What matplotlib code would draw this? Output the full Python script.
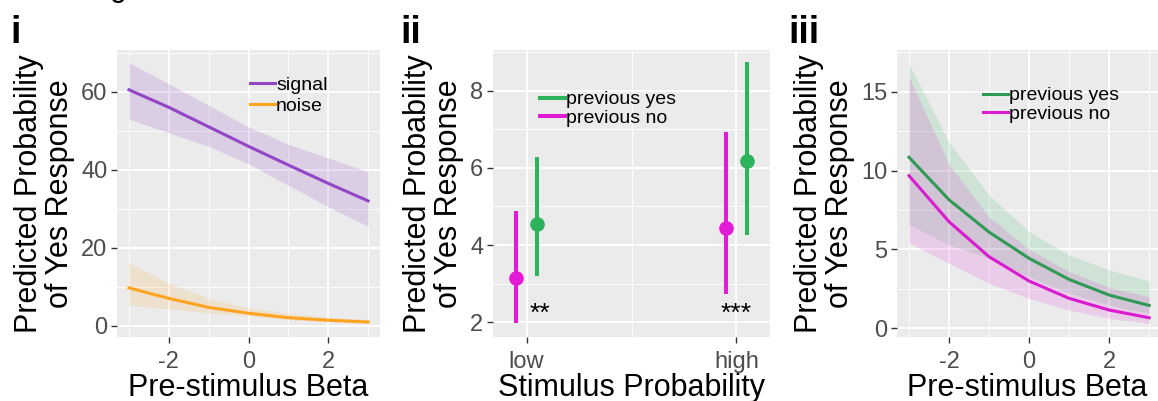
import matplotlib
matplotlib.use("Agg")
import matplotlib.pyplot as plt
import numpy as np

plt.rcParams['font.family'] = ['Liberation Sans', 'DejaVu Sans']
plt.rcParams['axes.unicode_minus'] = False

# ---------------- data ----------------
beta = [-3, -2, -1, 0, 1, 2, 3]

# panel i
signal_fit = [60.5, 56.0, 51.0, 46.0, 41.2, 36.5, 32.0]
signal_hi = [67.5, 62.0, 56.5, 51.0, 46.5, 43.0, 39.5]
signal_lo = [53.0, 49.5, 46.0, 41.5, 36.0, 30.5, 25.5]
noise_fit = [9.7, 7.0, 4.7, 3.2, 2.05, 1.4, 0.95]
noise_hi = [16.0, 10.9, 7.0, 4.6, 3.2, 2.15, 1.6]
noise_lo = [5.3, 4.3, 3.3, 2.5, 1.6, 1.0, 0.6]

# panel ii
stim_levels = ["low", "high"]
prev_no_mean = [3.14, 4.43]
prev_no_lo = [1.97, 2.73]
prev_no_hi = [4.88, 6.94]
prev_yes_mean = [4.54, 6.18]
prev_yes_lo = [3.20, 4.26]
prev_yes_hi = [6.29, 8.74]
sig_marks = ["**", "***"]

# panel iii
yes_fit = [10.85, 8.15, 6.1, 4.44, 3.1, 2.11, 1.45]
yes_hi = [16.76, 11.8, 8.45, 6.13, 4.65, 3.7, 3.0]
yes_lo = [6.6, 5.28, 4.44, 3.27, 2.22, 1.48, 0.95]
no_fit = [9.68, 6.76, 4.54, 3.0, 1.9, 1.16, 0.67]
no_hi = [15.95, 10.4, 7.05, 5.0, 3.6, 2.6, 2.0]
no_lo = [5.43, 4.12, 2.85, 1.9, 1.16, 0.63, 0.32]

# ---------------- style ----------------
BG = "#EBEBEB"
TICKC = "#4D4D4D"
PURPLE = "#9146C6"
ORANGE = "#FFA320"
GREEN = "#2DB35B"
MAGENTA = "#E31BD6"
GREEN3 = "#2F9A55"
MAGENTA3 = "#D91CD0"

W, H = 1158, 401
fig = plt.figure(figsize=(W / 100, H / 100), dpi=100)


def px_axes(x0, x1, y0, y1):
    return fig.add_axes([x0 / W, (H - y1) / H, (x1 - x0) / W, (y1 - y0) / H])


def ggstyle(ax, xmaj, xmin, ymaj, ymin):
    ax.set_facecolor(BG)
    for s in ax.spines.values():
        s.set_visible(False)
    for v in xmin:
        ax.axvline(v, color="white", lw=0.6, zorder=0)
    for v in ymin:
        ax.axhline(v, color="white", lw=0.6, zorder=0)
    for v in xmaj:
        ax.axvline(v, color="white", lw=1.3, zorder=0)
    for v in ymaj:
        ax.axhline(v, color="white", lw=1.3, zorder=0)
    ax.tick_params(axis="both", length=4, width=1, color="#333333",
                   labelcolor=TICKC, labelsize=17, pad=3)
    ax.tick_params(axis="x", pad=6)


ylab = "Predicted Probability\nof Yes Response"
LABFS = 22

# ---------------- panel i ----------------
ax1 = px_axes(117, 380, 50, 337)
ax1.fill_between(beta, signal_lo, signal_hi, color=PURPLE, alpha=0.18, lw=0)
ax1.fill_between(beta, noise_lo, noise_hi, color=ORANGE, alpha=0.15, lw=0)
ax1.plot(beta, signal_fit, color=PURPLE, lw=2.2, label="signal")
ax1.plot(beta, noise_fit, color=ORANGE, lw=2.2, label="noise")
ax1.set_xlim(-3.3, 3.3)
ax1.set_ylim(-2.9, 70.7)
ax1.set_xticks([-2, 0, 2])
ax1.set_yticks([0, 20, 40, 60])
ggstyle(ax1, [-2, 0, 2], [-3, -1, 1, 3], [0, 20, 40, 60], [10, 30, 50, 70])
ax1.set_xlabel("Pre-stimulus Beta", fontsize=LABFS, labelpad=0)
ax1.set_ylabel(ylab, fontsize=LABFS, labelpad=4, linespacing=1.05)
ax1.legend(loc="center left", bbox_to_anchor=(0.505, 0.841), frameon=False,
           fontsize=14, handlelength=1.3, handletextpad=0.05, borderpad=0,
           labelspacing=0.15, borderaxespad=0)

# ---------------- panel ii ----------------
ax2 = px_axes(493, 770, 50, 337)
xpos = np.arange(1, len(stim_levels) + 1)
dodge = 0.05
ax2.vlines(xpos - dodge, prev_no_lo, prev_no_hi, color=MAGENTA, lw=2.9)
ax2.plot(xpos - dodge, prev_no_mean, "o", color=MAGENTA, ms=9.5, lw=0)
ax2.vlines(xpos + dodge, prev_yes_lo, prev_yes_hi, color=GREEN, lw=2.9)
ax2.plot(xpos + dodge, prev_yes_mean, "o", color=GREEN, ms=9.5, lw=0)
ax2.plot([], [], color=GREEN, lw=2.9, label="previous yes")
ax2.plot([], [], color=MAGENTA, lw=2.9, label="previous no")
star_x = [xpos[0] + 0.062, xpos[1] + 0.0]
for sx, m in zip(star_x, sig_marks):
    ax2.text(sx, 2.22, m, ha="center", va="center", fontsize=19, color="black")
ax2.set_xlim(0.84, 2.16)
ax2.set_ylim(1.62, 9.05)
ax2.set_xticks(xpos)
ax2.set_xticklabels(stim_levels)
ax2.set_yticks([2, 4, 6, 8])
ggstyle(ax2, list(xpos), [1.5], [2, 4, 6, 8], [3, 5, 7, 9])
ax2.set_xlabel("Stimulus Probability", fontsize=LABFS, labelpad=0)
ax2.set_ylabel(ylab, fontsize=LABFS, labelpad=4, linespacing=1.05)
ax2.legend(loc="center left", bbox_to_anchor=(0.17, 0.795), frameon=False,
           fontsize=14, handlelength=1.3, handletextpad=0.05, borderpad=0,
           labelspacing=0.05, borderaxespad=0)

# ---------------- panel iii ----------------
ax3 = px_axes(897, 1158, 50, 337)
ax3.fill_between(beta, yes_lo, yes_hi, color=GREEN, alpha=0.15, lw=0)
ax3.fill_between(beta, no_lo, no_hi, color=MAGENTA, alpha=0.15, lw=0)
ax3.plot(beta, yes_fit, color=GREEN3, lw=2.2, label="previous yes")
ax3.plot(beta, no_fit, color=MAGENTA3, lw=2.2, label="previous no")
ax3.set_xlim(-3.3, 3.22)
ax3.set_ylim(-0.55, 17.65)
ax3.set_xticks([-2, 0, 2])
ax3.set_yticks([0, 5, 10, 15])
ggstyle(ax3, [-2, 0, 2], [-3, -1, 1, 3], [0, 5, 10, 15], [2.5, 7.5, 12.5, 17.5])
ax3.set_xlabel("Pre-stimulus Beta", fontsize=LABFS, labelpad=0)
ax3.set_ylabel(ylab, fontsize=LABFS, labelpad=4, linespacing=1.05)
ax3.legend(loc="center left", bbox_to_anchor=(0.33, 0.809), frameon=False,
           fontsize=14, handlelength=1.3, handletextpad=0.05, borderpad=0,
           labelspacing=0.05, borderaxespad=0)

# ---------------- panel labels ----------------
for lx, lab in [(10, "i"), (400, "ii"), (788, "iii")]:
    fig.text(lx / W, 1 - 43 / H, lab, fontsize=27, fontweight="bold",
             ha="left", va="baseline")

# cut-off figure title above the panels (only its descender is visible)
fig.text(110 / W, 1 + 4 / H, "g", fontsize=22, ha="left", va="baseline")

fig.savefig("out.png", dpi=100)
